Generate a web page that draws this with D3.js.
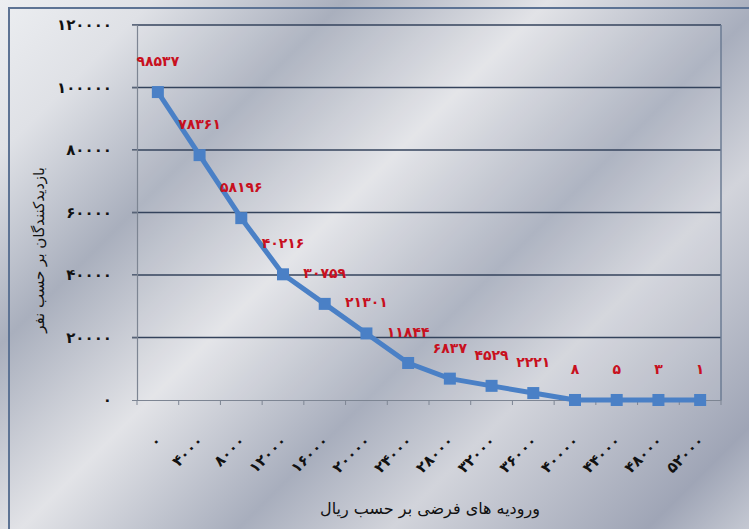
<!DOCTYPE html>
<html>
<head>
<meta charset="utf-8">
<script src="https://cdn.jsdelivr.net/npm/d3@7"></script>
<style>
  html, body { margin: 0; padding: 0; background: #ffffff; }
  svg { display: block; }
  text { font-family: "DejaVu Sans", sans-serif; }
</style>
</head>
<body>
<svg id="chart" width="749" height="529"></svg>
<script>
// ---- data ----
const categories = [0, 4000, 8000, 12000, 16000, 20000, 24000, 28000, 32000, 36000, 40000, 44000, 48000, 52000];
const visitors = [98537, 78361, 58196, 40216, 30759, 21301, 11844, 6837, 4529, 2221, 8, 5, 3, 1];
const yTicks = [0, 20000, 40000, 60000, 80000, 100000, 120000];
const yTitle = "بازدیدکنندگان بر حسب نفر";
const xTitle = "ورودیه های فرضی بر حسب ریال";

const fa = n => String(n).replace(/\d/g, d => "۰۱۲۳۴۵۶۷۸۹"[d]);

const W = 749, H = 529;
const margin = { left: 137, right: 28, top: 25, bottom: 129 };
const svg = d3.select("#chart");

// background gradient (silver)
const defs = svg.append("defs");
const bg = defs.append("linearGradient").attr("id", "bg")
  .attr("gradientUnits", "userSpaceOnUse")
  .attr("x1", 0).attr("y1", 0).attr("x2", 639).attr("y2", 639);
[[0, "#eceef1"], [0.12, "#dfe1e6"], [0.27, "#a9afbd"], [0.43, "#e2e3e7"],
 [0.6, "#a8aebd"], [0.72, "#d2d4db"], [0.92, "#9fa5b6"], [1, "#c4c8d2"]]
  .forEach(([o, c]) => bg.append("stop").attr("offset", o).attr("stop-color", c));

svg.append("rect").attr("x", 0).attr("y", 0).attr("width", W).attr("height", H).attr("fill", "url(#bg)");
svg.append("rect").attr("x", 9).attr("y", 8).attr("width", W + 10).attr("height", H + 10)
  .attr("fill", "none").attr("stroke", "#5d7394").attr("stroke-width", 2);

const x = d3.scaleBand().domain(categories).range([margin.left, W - margin.right]).padding(0);
const y = d3.scaleLinear().domain([0, 120000]).range([H - margin.bottom, margin.top]);

// plot area subtle fill
svg.append("rect").attr("x", margin.left).attr("y", margin.top)
  .attr("width", W - margin.right - margin.left).attr("height", H - margin.bottom - margin.top)
  .attr("fill", "#ffffff").attr("fill-opacity", 0.08);

// gridlines
svg.append("g").selectAll("line").data(yTicks.filter(d => d > 0)).join("line")
  .attr("x1", margin.left - 5).attr("x2", W - margin.right)
  .attr("y1", d => y(d)).attr("y2", d => y(d))
  .attr("stroke", "#34435c").attr("stroke-width", 1.5);

// right border of plot area
svg.append("line").attr("x1", W - margin.right).attr("x2", W - margin.right)
  .attr("y1", margin.top).attr("y2", H - margin.bottom)
  .attr("stroke", "#6b7b93").attr("stroke-width", 1.5);

// y axis
const yAxis = svg.append("g").attr("transform", `translate(${margin.left},0)`)
  .call(d3.axisLeft(y).tickValues(yTicks).tickSize(5).tickPadding(20).tickFormat(fa));
yAxis.select(".domain").attr("stroke", "#7d8593").attr("stroke-width", 1.2);
yAxis.selectAll(".tick line").attr("stroke", "#7d8593");
yAxis.selectAll("text").attr("font-size", 15).attr("font-weight", "bold").attr("fill", "#111");

// x axis
const xAxis = svg.append("g").attr("transform", `translate(0,${H - margin.bottom})`)
  .call(d3.axisBottom(x).tickSize(0).tickFormat(fa));
xAxis.select(".domain").attr("stroke", "#7d8593").attr("stroke-width", 1.2);
xAxis.selectAll("text")
  .attr("font-size", 15).attr("font-weight", "bold").attr("fill", "#111")
  .attr("text-anchor", "end")
  .attr("transform", "translate(1,38) rotate(-45)")
  .attr("dy", "0.35em").attr("y", 0);
// tick marks at band boundaries
svg.append("g").selectAll("line").data(categories).join("line")
  .attr("x1", d => x(d)).attr("x2", d => x(d))
  .attr("y1", H - margin.bottom).attr("y2", H - margin.bottom + 5)
  .attr("stroke", "#7d8593");
svg.append("line").attr("x1", W - margin.right).attr("x2", W - margin.right)
  .attr("y1", H - margin.bottom).attr("y2", H - margin.bottom + 5).attr("stroke", "#7d8593");

// line + markers
const pts = categories.map((c, i) => ({ c, v: visitors[i] }));
const cx = d => x(d.c) + x.bandwidth() / 2;
svg.append("path").datum(pts)
  .attr("d", d3.line().x(cx).y(d => y(d.v)))
  .attr("fill", "none").attr("stroke", "#4a80c6").attr("stroke-width", 5).attr("stroke-linejoin", "round");
svg.append("g").selectAll("rect").data(pts).join("rect")
  .attr("x", d => cx(d) - 6).attr("y", d => y(d.v) - 6)
  .attr("width", 12).attr("height", 12)
  .attr("fill", "#4a80c6");

// data labels
svg.append("g").selectAll("text").data(pts).join("text")
  .attr("x", cx).attr("y", d => y(d.v) - 26)
  .attr("text-anchor", "middle")
  .attr("font-size", 14).attr("font-weight", "bold").attr("fill", "#c8101e")
  .text(d => fa(d.v));

// titles
svg.append("text")
  .attr("transform", `translate(44,250) rotate(-90)`)
  .attr("text-anchor", "middle").attr("font-size", 15).attr("fill", "#111")
  .text(yTitle);
svg.append("text")
  .attr("x", 430).attr("y", 514)
  .attr("text-anchor", "middle").attr("font-size", 16).attr("fill", "#111")
  .text(xTitle);
</script>
</body>
</html>
